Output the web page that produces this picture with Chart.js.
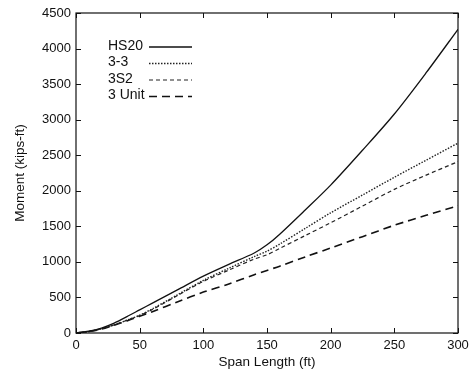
<!DOCTYPE html>
<html>
<head>
<meta charset="utf-8">
<script src="https://cdn.jsdelivr.net/npm/chart.js@4/dist/chart.umd.min.js"></script>
<style>
  html, body { margin: 0; padding: 0; background: #fff; }
  #wrap { width: 474px; height: 374px; }
</style>
</head>
<body>
<div id="wrap"><canvas id="momentChart"></canvas></div>
<script>
// Span lengths (ft)
const spans = [0, 10, 20, 30, 40, 50, 60, 80, 100, 120, 140, 150, 160, 180, 200, 225, 250, 275, 300];

// Maximum moment (kips-ft) per truck
const hs20 = [0, 25, 70, 140, 230, 325, 420, 610, 800, 965, 1125, 1240, 1390, 1730, 2080, 2570, 3080, 3660, 4270];
const type33 = [0, 20, 60, 115, 180, 250, 340, 540, 740, 910, 1075, 1150, 1250, 1470, 1690, 1940, 2190, 2430, 2670];
const type3s2 = [0, 20, 60, 115, 180, 245, 330, 530, 725, 885, 1040, 1100, 1190, 1370, 1550, 1785, 2020, 2220, 2410];
const type3unit = [0, 20, 55, 110, 170, 235, 300, 440, 575, 690, 820, 880, 940, 1070, 1195, 1355, 1515, 1655, 1790];

const seriesLabels = ['HS20', '3-3', '3S2', '3 Unit'];
const xTicks = [0, 50, 100, 150, 200, 250, 300];
const yTicks = [0, 500, 1000, 1500, 2000, 2500, 3000, 3500, 4000, 4500];

const FONT = '"Liberation Sans", Arial, sans-serif';

function points(ys) {
    return spans.map((x, i) => ({ x: x, y: ys[i] }));
}

// frame, inward tick marks and the legend inside the plot
const framePlugin = {
    id: 'frame',
    afterDraw(chart) {
        const ctx = chart.ctx;
        const a = chart.chartArea;
        const xs = chart.scales.x;
        const ys = chart.scales.y;
        ctx.save();
        ctx.strokeStyle = '#111';
        ctx.lineWidth = 1.2;
        ctx.strokeRect(a.left, a.top, a.right - a.left, a.bottom - a.top);
        ctx.lineWidth = 1;
        ctx.beginPath();
        xTicks.forEach(v => {
            const px = Math.round(xs.getPixelForValue(v)) + 0.5;
            ctx.moveTo(px, a.bottom); ctx.lineTo(px, a.bottom - 5);
            ctx.moveTo(px, a.top); ctx.lineTo(px, a.top + 5);
        });
        yTicks.forEach(v => {
            const py = Math.round(ys.getPixelForValue(v)) + 0.5;
            ctx.moveTo(a.left, py); ctx.lineTo(a.left + 5, py);
            ctx.moveTo(a.right, py); ctx.lineTo(a.right - 5, py);
        });
        ctx.stroke();

        // legend
        const lx = a.left + 32;
        const ly = a.top + 33;
        ctx.font = '14px ' + FONT;
        ctx.fillStyle = '#111';
        ctx.textBaseline = 'middle';
        chart.data.datasets.forEach((ds, i) => {
            const y = ly + i * 16.5;
            ctx.fillText(ds.label, lx, y);
            ctx.beginPath();
            ctx.setLineDash(ds.borderDash || []);
            ctx.lineWidth = ds.borderWidth;
            ctx.strokeStyle = ds.borderColor;
            ctx.moveTo(lx + 41, y + 1);
            ctx.lineTo(lx + 84, y + 1);
            ctx.stroke();
        });
        ctx.restore();
    }
};

const ctx = document.getElementById('momentChart').getContext('2d');
new Chart(ctx, {
    type: 'line',
    data: {
        datasets: [
            { label: seriesLabels[0], data: points(hs20), borderColor: '#111', borderWidth: 1.3 },
            { label: seriesLabels[1], data: points(type33), borderColor: '#222', borderWidth: 1.4, borderDash: [1.5, 1.5] },
            { label: seriesLabels[2], data: points(type3s2), borderColor: '#222', borderWidth: 1.2, borderDash: [4, 3] },
            { label: seriesLabels[3], data: points(type3unit), borderColor: '#111', borderWidth: 1.6, borderDash: [8, 5] }
        ]
    },
    options: {
        responsive: true,
        maintainAspectRatio: false,
        animation: false,
        devicePixelRatio: 1,
        elements: {
            point: { radius: 0 },
            line: { tension: 0.3, fill: false }
        },
        layout: { padding: { left: 0, right: 16, top: 13, bottom: 4 } },
        plugins: {
            legend: { display: false },
            tooltip: { enabled: false }
        },
        scales: {
            x: {
                type: 'linear',
                min: 0,
                max: 300,
                afterBuildTicks: s => { s.ticks = xTicks.map(v => ({ value: v })); },
                afterFit: s => { s.height = 37; },
                grid: { display: false, drawTicks: false },
                border: { display: false },
                ticks: { color: '#111', font: { family: FONT, size: 13 }, padding: 5, maxRotation: 0 },
                title: { display: true, text: 'Span Length (ft)', color: '#111', font: { family: FONT, size: 13.5 }, padding: { top: 0, bottom: 0 } }
            },
            y: {
                type: 'linear',
                min: 0,
                max: 4500,
                afterBuildTicks: s => { s.ticks = yTicks.map(v => ({ value: v })); },
                afterFit: s => { s.width = 76; },
                grid: { display: false, drawTicks: false },
                border: { display: false },
                ticks: { color: '#111', font: { family: FONT, size: 13 }, padding: 5, callback: v => String(v) },
                title: { display: true, text: 'Moment (kips-ft)', color: '#111', font: { family: FONT, size: 13.5 }, padding: { top: 12, bottom: 4 } }
            }
        }
    },
    plugins: [framePlugin]
});
</script>
</body>
</html>
